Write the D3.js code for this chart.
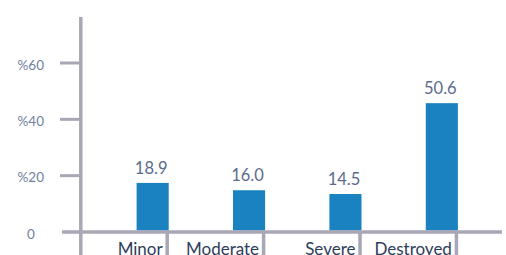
<!DOCTYPE html>
<html><head><meta charset="utf-8">
<script src="https://cdn.jsdelivr.net/npm/d3@7"></script>
<style>body{margin:0;background:#fff}svg{display:block}</style>
</head><body><svg id="c" width="506" height="255"></svg>
<script>
const categories = ["Minor", "Moderate", "Severe", "Destroyed"];
const values = [18.9, 16.0, 14.5, 50.6];
const tickValues = [0, 20, 40, 60];
const tickLabels = ["0", "%20", "%40", "%60"];

const svg = d3.select("#c");
const axisColor = "#a9a6b5";
const font = "Lato, 'Open Sans', sans-serif";

// scales
const yAxis = d3.scaleLinear().domain([0, 60]).range([232, 63]);
const yBar = d3.scaleLinear().domain([0, 60]).range([230.5, 79.5]);
const x = d3.scaleBand().domain(categories).range([104.5, 490]).paddingInner(0.667).paddingOuter(0.333);

// y axis line
svg.append("line").attr("x1", 80.8).attr("x2", 80.8).attr("y1", 17).attr("y2", 255)
  .attr("stroke", axisColor).attr("stroke-width", 3.5);
// y ticks
svg.selectAll(".yt").data(tickValues.slice(1)).join("line")
  .attr("x1", 60).attr("x2", 80).attr("y1", d => yAxis(d)).attr("y2", d => yAxis(d))
  .attr("stroke", axisColor).attr("stroke-width", 3);
svg.selectAll(".yl").data(tickValues).join("text")
  .attr("x", 30.8).attr("y", d => yAxis(d) + 1.5).attr("text-anchor", "middle")
  .attr("dominant-baseline", "central")
  .attr("font-family", font).attr("font-size", 13.5).attr("fill", "#717fa0")
  .text((d, i) => tickLabels[i]);

// bars
svg.selectAll(".bar").data(values).join("rect")
  .attr("x", (d, i) => x(categories[i])).attr("width", x.bandwidth())
  .attr("y", d => yBar(d)).attr("height", d => yBar(0) - yBar(d))
  .attr("fill", "#1a82c1");

// baseline
svg.append("line").attr("x1", 62).attr("x2", 502).attr("y1", 232).attr("y2", 232)
  .attr("stroke", axisColor).attr("stroke-width", 3.5);

// category separators
svg.selectAll(".sep").data(categories).join("line")
  .attr("x1", d => x(d) + x.bandwidth() - 1.5).attr("x2", d => x(d) + x.bandwidth() - 1.5)
  .attr("y1", 232).attr("y2", 255)
  .attr("stroke", axisColor).attr("stroke-width", 3.5);

// category labels
svg.selectAll(".cl").data(categories).join("text")
  .attr("x", d => x(d) + x.bandwidth() - 6).attr("y", 254.5)
  .attr("text-anchor", "end")
  .attr("font-family", font).attr("font-size", 17).attr("fill", "#2e3d5a")
  .text(d => d);

// value labels
svg.selectAll(".vl").data(values).join("text")
  .attr("x", (d, i) => x(categories[i]) + x.bandwidth() / 2 - 1.5)
  .attr("y", d => yBar(d) - 9)
  .attr("text-anchor", "middle")
  .attr("font-family", font).attr("font-size", 16.5).attr("fill", "#5b6b8c")
  .text(d => d.toFixed(1));
</script></body></html>
